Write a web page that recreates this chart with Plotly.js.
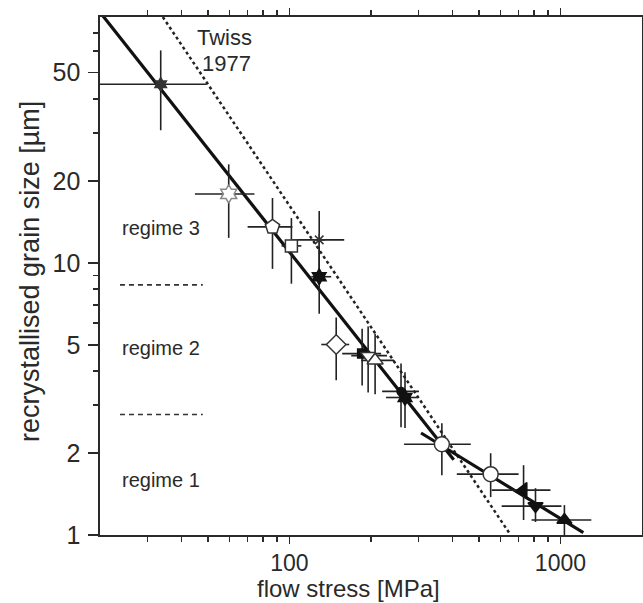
<!DOCTYPE html>
<html>
<head>
<meta charset="utf-8">
<script src="https://cdn.plot.ly/plotly-3.0.1.min.js"></script>
<style>html,body{margin:0;padding:0;background:#fff;}#chart{width:643px;height:603px;}</style>
</head>
<body>
<div id="chart"></div>
<script>
// ---- data (flow stress in MPa, grain size in µm) ----
const stress   = [33.5, 59.7, 86.6, 101.7, 128.8, 128.8, 148.8, 185.5, 195.2, 207.1, 258.1, 267.0, 365.2, 552.8, 731.2, 809.2, 1034.4];
const stressLo = [20.0, 44.8, 70.1, 93.5, 102.6, 120.4, 131.1, 156.6, 169.1, 183.9, 219.8, 227.3, 264.8, 414.6, 557.6, 606.9, 782.3];
const stressHi = [49.5, 74.3, 102.6, 110.7, 159.3, 142.6, 166.2, 217.9, 229.2, 243.2, 300.6, 295.5, 466.9, 700.9, 918.8, 1008.6, 1300];
const grain    = [45.3, 17.9, 13.55, 11.54, 12.14, 8.89, 5.01, 4.64, 4.56, 4.38, 3.37, 3.20, 2.154, 1.673, 1.462, 1.277, 1.135];
const grainLo  = [30.7, 12.35, 9.5, 8.38, 9.2, 6.5, 3.70, 3.54, 3.34, 3.29, 2.49, 2.47, 1.659, 1.378, 1.135, 1.116, 1.0];
const grainHi  = [60.3, 23.0, 17.3, 14.6, 15.5, 11.5, 6.29, 5.73, 5.83, 5.49, 4.27, 3.96, 2.572, 1.997, 1.805, 1.486, 1.288];
const symbols  = ['hexagram','hexagram','pentagon','square','asterisk-open','hexagram','diamond','square','triangle-down','triangle-up','circle','hexagram','circle','circle','triangle-left','triangle-down','triangle-up'];
const fills    = ['#333','#fff','#fff','#fff','#333','#111','#fff','#111','#fff','#fff','#111','#111','#fff','#fff','#111','#111','#111'];
const outlines = ['#333','#888','#333','#333','#333','#111','#333','#111','#333','#333','#111','#111','#333','#333','#111','#111','#111'];
const sizes    = [10, 14, 15, 12, 10, 12, 15, 9, 13, 14, 8, 12, 15, 15, 13, 13, 13];

// piezometer lines
const regime3Stress = [20, 404];
const regime3Grain  = [83.3, 1.89];
const regime1Stress = [306, 1215];
const regime1Grain  = [2.37, 1.02];
const twissStress   = [34.1, 655];
const twissGrain    = [80, 1];

// regime boundaries
const boundStress = [23.7, 47.9];
const bound23 = [8.3, 8.3];
const bound12 = [2.77, 2.77];

// labels
const regimeLabels = ['regime 3', 'regime 2', 'regime 1'];
const regimeLabelY = [13.4, 4.88, 1.59];
const regimeLabelX = 23.7;

const xMajor = [100, 1000];
const xMinor = [30,40,50,60,70,80,90,200,300,400,500,600,700,800,900];
const yMajor = [1, 2, 5, 10, 20, 50];
const yMinor = [3,4,6,7,8,9,30,40,60,70];

const FONT = 'Arial, "Liberation Sans", Helvetica, sans-serif';
const INK = '#2a2a2a';

const traces = [
  {x: twissStress, y: twissGrain, mode: 'lines', line: {color: '#222', width: 2.5, dash: 'dot'}, hoverinfo: 'skip', showlegend: false},
  {x: regime3Stress, y: regime3Grain, mode: 'lines', line: {color: '#111', width: 3.2}, showlegend: false},
  {x: regime1Stress, y: regime1Grain, mode: 'lines', line: {color: '#111', width: 3.2}, showlegend: false},
  {x: boundStress, y: bound23, mode: 'lines', line: {color: '#333', width: 1.6, dash: '5px,4px'}, showlegend: false},
  {x: boundStress, y: bound12, mode: 'lines', line: {color: '#333', width: 1.6, dash: '5px,4px'}, showlegend: false},
  {
    x: stress, y: grain, mode: 'markers', showlegend: false,
    marker: {symbol: symbols, color: fills, size: sizes, opacity: 1, line: {color: outlines, width: 1.5}},
    error_x: {type: 'data', symmetric: false,
      array: stress.map((v, i) => stressHi[i] - v),
      arrayminus: stress.map((v, i) => v - stressLo[i]),
      color: '#222', thickness: 1.6, width: 0},
    error_y: {type: 'data', symmetric: false,
      array: grain.map((v, i) => grainHi[i] - v),
      arrayminus: grain.map((v, i) => v - grainLo[i]),
      color: '#222', thickness: 1.6, width: 0}
  }
];

const annotations = [
  {x: Math.log10(57.7), y: Math.log10(67), xref: 'x', yref: 'y', text: 'Twiss', showarrow: false, font: {family: FONT, size: 22, color: INK}},
  {x: Math.log10(58.6), y: Math.log10(54), xref: 'x', yref: 'y', text: '1977', showarrow: false, font: {family: FONT, size: 22, color: INK}},
  {x: 0.4576, y: -0.1313, xref: 'paper', yref: 'paper', xanchor: 'center', yanchor: 'bottom', borderpad: 0, text: 'flow stress [MPa]', showarrow: false, font: {family: FONT, size: 24, color: INK}},
  {x: -0.129, y: 0.508, xref: 'paper', yref: 'paper', xanchor: 'center', yanchor: 'middle', text: 'recrystallised grain size [µm]', textangle: -90, showarrow: false, font: {family: FONT, size: 27, color: INK}}
];
regimeLabels.forEach((t, i) => annotations.push({
  x: Math.log10(regimeLabelX), y: Math.log10(regimeLabelY[i]), xref: 'x', yref: 'y', xanchor: 'left',
  text: t, showarrow: false, font: {family: FONT, size: 20, color: INK}
}));

const axisCommon = {
  type: 'log', showgrid: false, zeroline: false, showline: true, linecolor: INK, linewidth: 1.6,
  mirror: 'allticks', ticks: 'outside', ticklen: 10, tickwidth: 1.5, tickcolor: INK,
  tickfont: {family: FONT, size: 25, color: INK}
};

const layout = {
  width: 643, height: 603,
  margin: {l: 100, r: 1, t: 17, b: 68},
  paper_bgcolor: '#fff', plot_bgcolor: '#fff',
  showlegend: false,
  xaxis: Object.assign({}, axisCommon, {
    range: [Math.log10(20), Math.log10(2000)],
    tickmode: 'array', tickvals: xMajor, ticktext: xMajor.map(String),
    ticklen: 7, ticklabelstandoff: 0,
    tickfont: {family: FONT, size: 23, color: INK},
    minor: {tickmode: 'array', tickvals: xMinor, ticks: 'outside', ticklen: 5, tickwidth: 1.5, tickcolor: INK, showgrid: false}
  }),
  yaxis: Object.assign({}, axisCommon, {
    range: [0, Math.log10(80)],
    tickmode: 'array', tickvals: yMajor, ticktext: yMajor.map(String),
    ticklabelstandoff: 3,
    minor: {tickmode: 'array', tickvals: yMinor, ticks: 'outside', ticklen: 5, tickwidth: 1.5, tickcolor: INK, showgrid: false}
  }),
  annotations: annotations
};

Plotly.newPlot('chart', traces, layout, {displayModeBar: false, staticPlot: true});
</script>
</body>
</html>
